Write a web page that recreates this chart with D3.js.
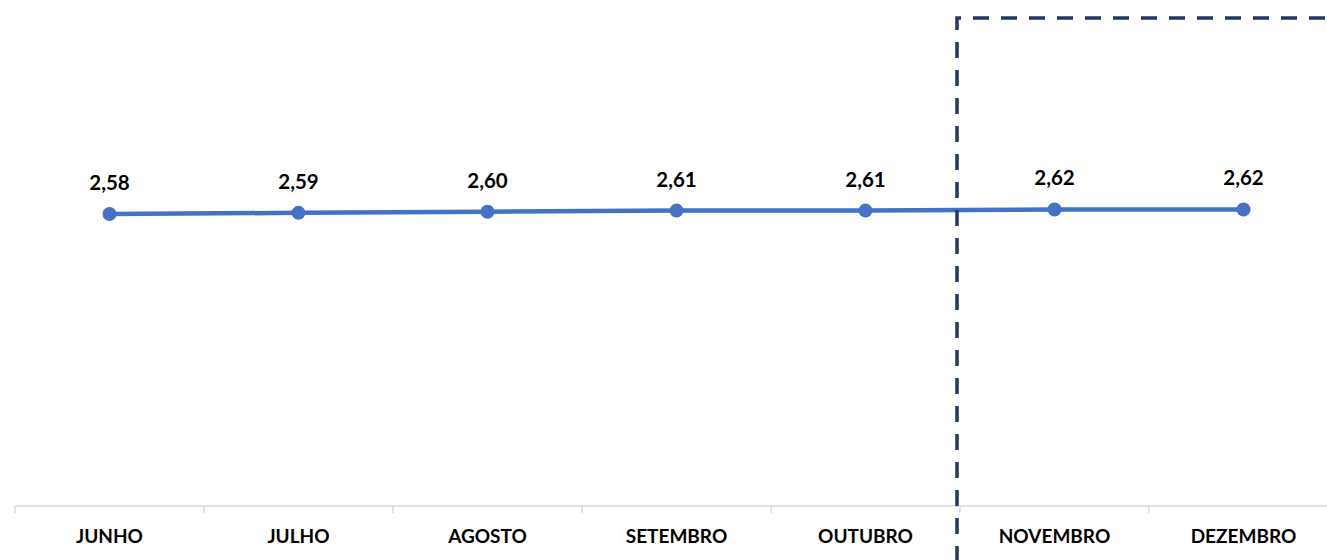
<!DOCTYPE html>
<html><head><meta charset="utf-8">
<script src="https://cdn.jsdelivr.net/npm/d3@7"></script>
<style>body{margin:0;background:#fff;}svg{display:block;}</style>
</head><body>
<svg id="c" width="1327" height="560"></svg>
<script>
const categories = ["JUNHO","JULHO","AGOSTO","SETEMBRO","OUTUBRO","NOVEMBRO","DEZEMBRO"];
const values = [2.58, 2.59, 2.60, 2.61, 2.61, 2.62, 2.62];
const labels = ["2,58","2,59","2,60","2,61","2,61","2,62","2,62"];

const svg = d3.select("#c");
const font = "Lato, 'Open Sans', sans-serif";
const x = d3.scaleBand().domain(categories).range([15, 1338]);
const y = d3.scaleLinear().domain([0, 4.4]).range([506, 8]);

// axis
svg.append("line").attr("x1",15).attr("x2",1338).attr("y1",506).attr("y2",506)
  .attr("stroke","#d9d9d9").attr("stroke-width",1.5);
const bounds = categories.map(c => x(c)).concat([x(categories[6]) + x.bandwidth()]);
svg.selectAll(".tk").data(bounds).enter().append("line")
  .attr("x1",d=>d).attr("x2",d=>d).attr("y1",506).attr("y2",513)
  .attr("stroke","#d9d9d9").attr("stroke-width",1.5);
svg.selectAll(".cat").data(categories).enter().append("text")
  .attr("x",d=>x(d)+x.bandwidth()/2).attr("y",543)
  .attr("text-anchor","middle").attr("font-family",font).attr("font-weight","bold")
  .attr("font-size",19).attr("fill","#000").text(d=>d);

// line
const cx = (d,i) => x(categories[i]) + x.bandwidth()/2;
svg.append("path").datum(values)
  .attr("d", d3.line().x((d,i)=>cx(d,i)).y(d=>y(d)))
  .attr("fill","none").attr("stroke","#4472C4").attr("stroke-width",4.5);
svg.selectAll(".pt").data(values).enter().append("circle")
  .attr("cx",cx).attr("cy",d=>y(d)).attr("r",7).attr("fill","#4472C4");
svg.selectAll(".lb").data(values).enter().append("text")
  .attr("x",cx).attr("y",d=>y(d)-24)
  .attr("text-anchor","middle").attr("font-family",font).attr("font-weight","bold")
  .attr("font-size",20.5).attr("fill","#000").text((d,i)=>labels[i]);

// dashed box
svg.append("path").attr("d","M957,562 L957,18 L1330,18")
  .attr("fill","none").attr("stroke","#203864").attr("stroke-width",3.5)
  .attr("stroke-dasharray","16,12");
</script>
</body></html>
